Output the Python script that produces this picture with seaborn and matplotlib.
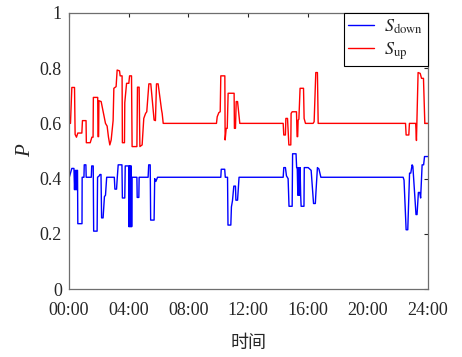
import numpy as np
import pandas as pd
import matplotlib
matplotlib.use("Agg")
import matplotlib.pyplot as plt
import seaborn as sns

# ---- data (hours, probability) ----
down_t = [0.0, 0.03, 0.20, 0.34, 0.38, 0.42, 0.45, 0.48, 0.51, 0.54, 0.58, 0.60, 0.88, 0.89,
          1.01, 1.03, 1.14, 1.16, 1.50, 1.53, 1.63, 1.66, 1.89, 1.92, 2.03, 2.08, 2.15, 2.19,
          2.29, 2.38, 2.45, 2.53, 3.04, 3.08, 3.19, 3.24, 3.30, 3.55, 3.58, 3.74, 3.77, 4.00,
          4.02, 4.05, 4.08, 4.11, 4.14, 4.17, 4.20, 4.23, 4.55, 4.57, 4.68, 4.70, 5.30, 5.34,
          5.44, 5.47, 5.70, 5.74, 5.82, 5.93, 10.16, 10.19, 10.42, 10.46, 10.61, 10.64, 10.83,
          10.87, 10.94, 11.03, 11.14, 11.17, 11.28, 11.38, 14.33, 14.37, 14.48, 14.55, 14.66,
          14.72, 14.93, 14.96, 15.19, 15.23, 15.27, 15.31, 15.34, 15.37, 15.40, 15.43, 15.46,
          15.50, 15.53, 15.72, 15.74, 16.00, 16.20, 16.36, 16.48, 16.52, 16.62, 16.72, 16.85,
          22.35, 22.41, 22.55, 22.66, 22.78, 22.86, 22.95, 23.00, 23.21, 23.28, 23.37, 23.46,
          23.52, 23.62, 23.72, 23.78, 24.00]
down_v = [0.94, 0.405, 0.437, 0.437, 0.36, 0.43, 0.36, 0.43, 0.36, 0.43, 0.43, 0.237, 0.237, 0.405,
          0.405, 0.45, 0.45, 0.405, 0.405, 0.446, 0.446, 0.21, 0.21, 0.405, 0.41, 0.415, 0.415, 0.258,
          0.258, 0.335, 0.34, 0.405, 0.405, 0.362, 0.362, 0.405, 0.45, 0.45, 0.33, 0.33, 0.446, 0.446,
          0.226, 0.446, 0.226, 0.446, 0.226, 0.446, 0.226, 0.405, 0.405, 0.332, 0.332, 0.405, 0.405, 0.45,
          0.45, 0.25, 0.25, 0.40, 0.39, 0.405, 0.405, 0.434, 0.434, 0.405, 0.405, 0.232, 0.232,
          0.298, 0.32, 0.373, 0.373, 0.322, 0.322, 0.405, 0.405, 0.44, 0.44, 0.41, 0.40,
          0.30, 0.30, 0.49, 0.49, 0.44, 0.44, 0.34, 0.44, 0.34, 0.44, 0.34, 0.44,
          0.34, 0.30, 0.30, 0.44, 0.44, 0.43, 0.31, 0.31, 0.35, 0.44, 0.435, 0.405,
          0.405, 0.395, 0.215, 0.215, 0.42, 0.42, 0.45, 0.445, 0.27, 0.27, 0.35, 0.35,
          0.33, 0.45, 0.45, 0.48, 0.48]

up_t = [0.0, 0.03, 0.11, 0.20, 0.38, 0.42, 0.51, 0.60, 0.87, 0.91, 1.15, 1.17, 1.43, 1.54, 1.62,
        1.64, 1.93, 1.95, 1.99, 2.01, 2.16, 2.34, 2.45, 2.56, 2.65, 2.74, 2.83, 2.96, 3.01, 3.16,
        3.23, 3.39, 3.43, 3.56, 3.58, 3.72, 3.74, 3.86, 4.01, 4.06, 4.19, 4.23, 4.55, 4.59, 4.70,
        4.75, 4.90, 5.01, 5.13, 5.21, 5.35, 5.48, 5.70, 5.79, 5.86, 5.97, 6.20, 6.24, 6.31, 9.87,
        9.92, 10.03, 10.12, 10.16, 10.43, 10.45, 10.52, 10.59, 10.65, 11.05, 11.07, 11.14, 11.19,
        11.28, 11.43, 14.33, 14.37, 14.48, 14.51, 14.62, 14.71, 14.84, 14.86, 14.93, 15.22, 15.26,
        15.30, 15.33, 15.38, 15.46, 15.69, 15.73, 15.82, 16.33, 16.40, 16.51, 16.62, 16.67, 22.51,
        22.55, 22.73, 22.77, 23.19, 23.24, 23.35, 23.49, 23.58, 23.71, 23.80, 24.00]
up_v = [0.0, 0.60, 0.60, 0.73, 0.73, 0.56, 0.55, 0.565, 0.565, 0.61, 0.61, 0.53, 0.53, 0.55, 0.55,
        0.694, 0.694, 0.552, 0.552, 0.682, 0.679, 0.63, 0.60, 0.59, 0.55, 0.522, 0.54, 0.61, 0.727, 0.733,
        0.793, 0.79, 0.772, 0.772, 0.53, 0.53, 0.675, 0.745, 0.745, 0.772, 0.772, 0.516, 0.516, 0.731, 0.731,
        0.516, 0.522, 0.618, 0.636, 0.642, 0.743, 0.743, 0.612, 0.61, 0.743, 0.743, 0.648, 0.636, 0.60, 0.60,
        0.624, 0.639, 0.642, 0.772, 0.772, 0.54, 0.582, 0.582, 0.709, 0.709, 0.582, 0.582, 0.679,
        0.679, 0.60, 0.60, 0.558, 0.558, 0.618, 0.618, 0.522, 0.522, 0.636, 0.642, 0.642, 0.552,
        0.552, 0.612, 0.615, 0.727, 0.727, 0.618, 0.60, 0.60, 0.606, 0.784, 0.784, 0.60, 0.60,
        0.558, 0.558, 0.60, 0.60, 0.538, 0.784, 0.781, 0.763, 0.763, 0.60, 0.60]

x_ticks = [0, 4, 8, 12, 16, 20, 24]
x_ticklabels = ["00:00", "04:00", "08:00", "12:00", "16:00", "20:00", "24:00"]
y_ticks = [0, 0.2, 0.4, 0.6, 0.8, 1.0]
y_ticklabels = ["0", "0.2", "0.4", "0.6", "0.8", "1"]

sns.set_style("white")
plt.rcParams['font.family'] = ['Liberation Serif', 'Noto Sans CJK SC']
plt.rcParams['mathtext.fontset'] = 'stix'

fig = plt.figure(figsize=(4.62, 3.57), dpi=100)
ax = fig.add_axes([0.149, 0.190, 0.777, 0.774])

df_down = pd.DataFrame({'t': down_t, 'v': down_v})
df_up = pd.DataFrame({'t': up_t, 'v': up_v})
sns.lineplot(data=df_down, x='t', y='v', color='#0000ff', lw=1.0, estimator=None,
             sort=False, label=r'$S_{\mathrm{down}}$', ax=ax)
sns.lineplot(data=df_up, x='t', y='v', color='#ff0000', lw=1.0, estimator=None,
             sort=False, label=r'$S_{\mathrm{up}}$', ax=ax)

ax.set_xlim(0, 24)
ax.set_ylim(0, 1)
ax.set_xticks(x_ticks)
ax.set_xticklabels(x_ticklabels)
ax.set_yticks(y_ticks)
ax.set_yticklabels(y_ticklabels)
ax.tick_params(direction='in', length=3, width=0.8, top=True, right=True,
               labelsize=13, colors='#262626')
ax.tick_params(axis='x', pad=9)
ax.tick_params(axis='y', pad=5)
for s in ax.spines.values():
    s.set_visible(True)
    s.set_color('#6e6e6e')
    s.set_linewidth(0.9)

ax.set_xlabel('时间', fontfamily='Noto Sans CJK SC', fontsize=13, labelpad=11, color='#262626')
ax.set_ylabel('P', fontstyle='italic', fontsize=15, labelpad=3, color='#262626')

leg = ax.legend(loc='upper right', borderaxespad=0, frameon=True, fancybox=False,
                edgecolor='black', framealpha=1, fontsize=13, handlelength=1.4,
                handletextpad=0.6, borderpad=0.25, labelspacing=0.25)
leg.get_frame().set_linewidth(0.8)

fig.savefig('out.png', dpi=100)
